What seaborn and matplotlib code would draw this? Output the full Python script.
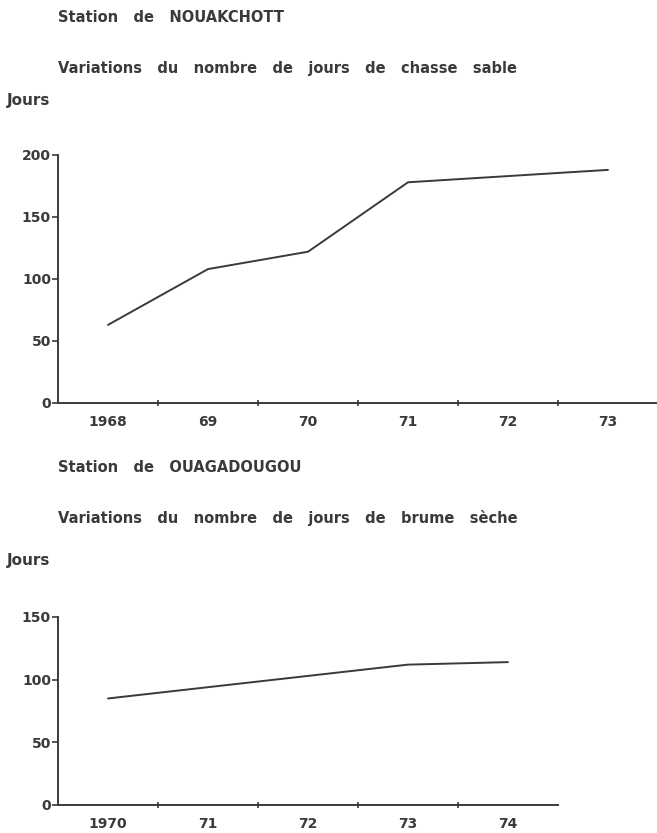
import numpy as np
import pandas as pd
import matplotlib
matplotlib.use('Agg')
import matplotlib.pyplot as plt
import seaborn as sns
from matplotlib.ticker import FixedLocator

# Données
annees_nouakchott = ['1968', '69', '70', '71', '72', '73']
jours_chasse_sable = [63, 108, 122, 178, 183, 188]

annees_ouaga = ['1970', '71', '72', '73', '74']
jours_brume_seche = [85, 94, 103, 112, 114]

sns.set_theme(style='white')
plt.rcParams['font.family'] = ['DejaVu Sans']
encre = '#3a3a3a'

fig = plt.figure(figsize=(6.57, 8.33), dpi=100)
W, H = 657, 833


def px_axes(x0, y_top, x1, y_bot):
    return fig.add_axes([x0 / W, 1 - y_bot / H, (x1 - x0) / W, (y_bot - y_top) / H])


def tracer(ax, annees, jours, ymax):
    df = pd.DataFrame({'annee': annees, 'jours': jours})
    sns.lineplot(data=df, x='annee', y='jours', sort=False, ax=ax,
                 color=encre, linewidth=1.4)
    n = len(annees)
    ax.set_xlim(-0.5, n - 0.5)
    ax.set_ylim(0, ymax)
    ax.set_yticks(np.arange(0, ymax + 1, 50))
    ax.xaxis.set_minor_locator(FixedLocator(np.arange(0.5, n - 0.5, 1)))
    ax.tick_params(axis='x', which='major', length=0, pad=9,
                   labelsize=10, labelcolor=encre)
    ax.tick_params(axis='x', which='minor', length=4, width=1.2,
                   direction='inout', color=encre, bottom=True)
    ax.tick_params(axis='y', length=4, width=1.2, pad=1, direction='out',
                   color=encre, labelsize=10, labelcolor=encre, left=True)
    for lab in ax.get_xticklabels() + ax.get_yticklabels():
        lab.set_fontweight('bold')
    for s in ['top', 'right']:
        ax.spines[s].set_visible(False)
    for s in ['left', 'bottom']:
        ax.spines[s].set_color(encre)
        ax.spines[s].set_linewidth(1.4)
    ax.set_xlabel('')
    ax.set_ylabel('')
    ax.patch.set_alpha(0)


def texte(x, y, s, taille=10.5):
    # espacement large entre les mots, comme sur l'original
    fig.text(x / W, 1 - y / H, s.replace(' ', '   '), ha='left', va='center',
             fontsize=taille, fontweight='bold', color=encre)


# Graphique du haut
ax1 = px_axes(58, 155, 658, 403)
tracer(ax1, annees_nouakchott, jours_chasse_sable, 200)
texte(58, 18, 'Station de NOUAKCHOTT')
texte(58, 68, 'Variations du nombre de jours de chasse sable')
texte(7, 100, 'Jours', 11)

# Graphique du bas
ax2 = px_axes(58, 617, 558, 805)
tracer(ax2, annees_ouaga, jours_brume_seche, 150)
texte(58, 468, 'Station de OUAGADOUGOU')
texte(58, 518, 'Variations du nombre de jours de brume sèche')
texte(7, 560, 'Jours', 11)

fig.savefig('out.png', dpi=100)
